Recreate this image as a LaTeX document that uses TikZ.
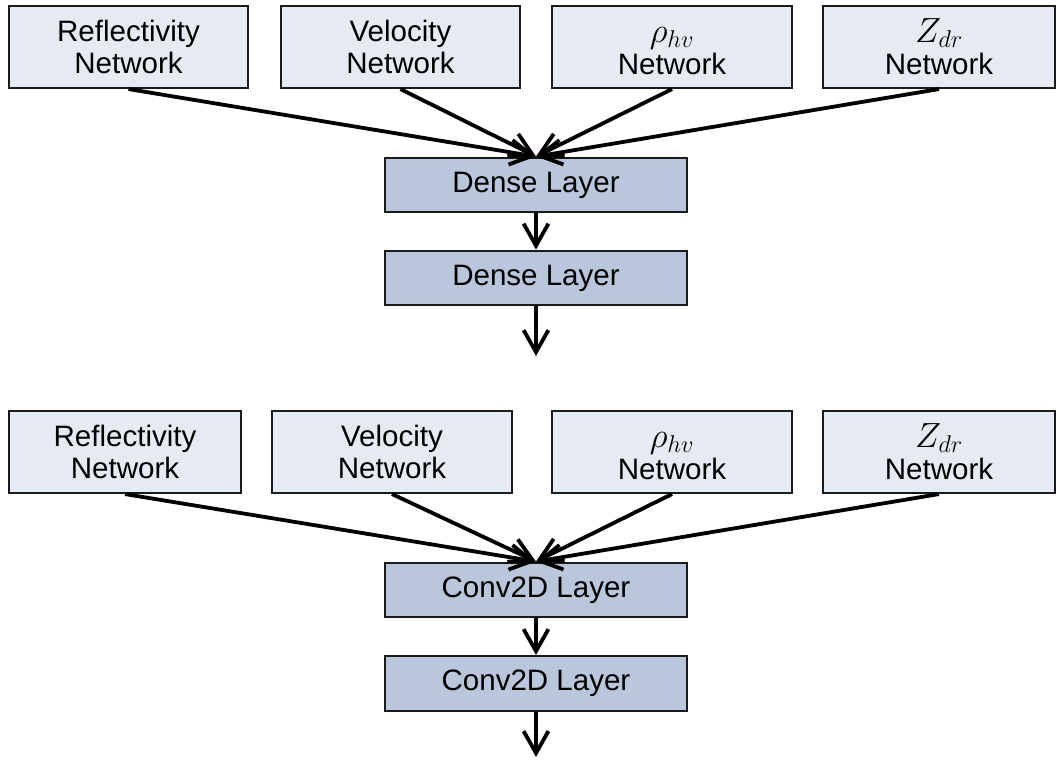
\documentclass[tikz,border=0pt]{standalone}
\usepackage{fontspec}
\setmainfont{Liberation Sans}
\usetikzlibrary{arrows.meta,positioning}
\definecolor{InputFill}{HTML}{E6EBF3}
\definecolor{LayerFill}{HTML}{B9C6DB}
\definecolor{Edge}{HTML}{1A1A1A}

\newcommand{\polvar}[1]{{\fontsize{24}{23}\selectfont\strut$#1$}}

\tikzset{
  netbox/.style={draw=Edge, line width=1.5pt, fill=InputFill, minimum height=2.05cm,
    align=center, inner sep=0pt, font=\fontsize{21}{23}\selectfont},
  layerbox/.style={draw=Edge, line width=1.5pt, fill=LayerFill, minimum width=7.55cm,
    minimum height=1.37cm, inner sep=0pt, font=\fontsize{21}{23}\selectfont},
  feed/.style={-{Straight Barb[length=0.55cm, width=0.62cm]}, line width=2.7pt, black},
}

\begin{document}
\begin{tikzpicture}[x=0.025cm, y=-0.025cm]
    \useasboundingbox (0,0) rectangle (1061,761);

    % dense branch
    \node[netbox, minimum width=5.98cm] (refl1) at (128.5,47) {Reflectivity\\Network};
    \node[netbox, minimum width=5.98cm] (vel1) at (400.5,47) {Velocity\\Network};
    \node[netbox, minimum width=6cm] (rho1) at (672,47) {\polvar{\rho_{hv}}\\Network};
    \node[netbox, minimum width=5.8cm] (zdr1) at (939,47) {\polvar{Z_{dr}}\\Network};
    \node[layerbox] (dense1) at (536,185) {Dense Layer};
    \node[layerbox] (dense2) at (536,278) {Dense Layer};
    \coordinate (out1) at (536,356);

    \draw[feed] (refl1.south) -- (dense1.north);
    \draw[feed] (vel1.south) -- (dense1.north);
    \draw[feed] (rho1.south) -- (dense1.north);
    \draw[feed] (zdr1.south) -- (dense1.north);
    \draw[feed] (dense1.south) -- (dense2.north);
    \draw[feed] (dense2.south) -- (out1);

    % conv branch
    \node[netbox, minimum width=5.8cm] (refl2) at (125,452) {Reflectivity\\Network};
    \node[netbox, minimum width=6cm] (vel2) at (392,452) {Velocity\\Network};
    \node[netbox, minimum width=6cm] (rho2) at (672,452) {\polvar{\rho_{hv}}\\Network};
    \node[netbox, minimum width=5.8cm] (zdr2) at (939,452) {\polvar{Z_{dr}}\\Network};
    \node[layerbox] (conv1) at (536,590) {Conv2D Layer};
    \node[layerbox] (conv2) at (536,683.5) {Conv2D Layer};
    \coordinate (out2) at (536,757);

    \draw[feed] (refl2.south) -- (conv1.north);
    \draw[feed] (vel2.south) -- (conv1.north);
    \draw[feed] (rho2.south) -- (conv1.north);
    \draw[feed] (zdr2.south) -- (conv1.north);
    \draw[feed] (conv1.south) -- (conv2.north);
    \draw[feed] (conv2.south) -- (out2);
  \end{tikzpicture}
\end{document}
